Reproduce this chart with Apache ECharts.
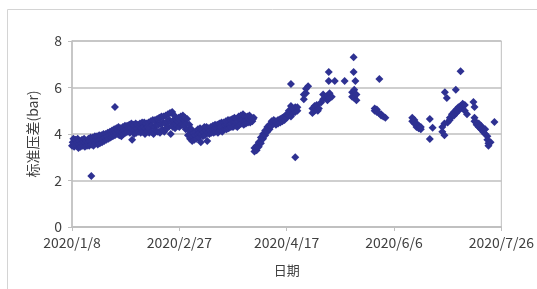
<!DOCTYPE html>
<html>
<head>
<meta charset="utf-8">
<script src="https://cdn.jsdelivr.net/npm/echarts@6/dist/echarts.min.js"></script>
<style>
html,body{margin:0;padding:0;background:#fff;}
#c{width:537px;height:289px;}
</style>
</head>
<body>
<div id="c"></div>
<script>
// Days since 2020/1/8 and the standard pressure difference (bar)
const baseDate = [2020, 0, 8];
const xTickDays = [0, 50, 100, 150, 200];
const yTicks = [0, 2, 4, 6, 8];

// Dense period (Jan 8 – Apr 1): low / mid / high of the band per day
const denseDays = [0,1,2,3,4,5,6,7,8,9,10,11,12,13,14,15,16,17,18,19,20,21,22,23,24,25,26,27,28,29,30,31,32,33,34,35,36,37,38,39,40,41,42,43,44,45,46,47,48,49,50,51,52,53,54,55,56,57,58,59,60,61,62,63,64,65,66,67,68,69,70,71,72,73,74,75,76,77,78,79,80,81,82,83,84];
const denseLow  = [3.5,3.45,3.5,3.4,3.45,3.5,3.45,3.5,3.5,3.55,3.5,3.6,3.55,3.6,3.65,3.7,3.75,3.8,3.85,3.9,3.95,4.0,3.95,3.9,4.0,4.05,4.1,4.05,3.75,4.0,4.05,4.1,4.05,4.1,4.0,4.1,4.05,4.1,4.0,4.15,4.1,4.05,4.2,4.1,4.25,4.3,4.0,4.3,4.25,4.35,4.3,4.4,4.35,4.2,3.95,3.8,3.7,3.75,3.8,3.85,3.65,3.9,3.95,3.7,4.0,4.05,4.05,4.1,4.05,4.15,4.1,4.2,4.2,4.25,4.3,4.3,4.35,4.3,4.4,4.45,4.4,4.45,4.5,4.5,4.55];
const denseMid  = [3.65,3.6,3.65,3.55,3.6,3.65,3.6,3.65,3.7,3.7,3.7,3.75,3.75,3.8,3.8,3.85,3.9,3.95,4.0,4.05,4.1,4.15,4.1,4.05,4.15,4.2,4.25,4.25,4.2,4.2,4.25,4.3,4.25,4.3,4.25,4.3,4.3,4.35,4.3,4.4,4.4,4.45,4.5,4.45,4.55,4.6,4.5,4.6,4.45,4.55,4.6,4.65,4.6,4.45,4.2,4.0,3.9,3.95,4.0,4.05,4.0,4.1,4.15,4.05,4.15,4.2,4.2,4.25,4.3,4.3,4.3,4.35,4.4,4.4,4.45,4.5,4.5,4.55,4.6,4.6,4.55,4.6,4.65,4.6,4.65];
const denseHigh = [3.8,3.75,3.8,3.7,3.75,3.8,3.7,3.8,3.85,3.85,3.9,3.9,3.95,3.95,4.0,4.0,4.05,4.1,4.15,4.2,4.25,4.3,4.25,4.3,4.35,4.35,4.4,4.45,4.4,4.45,4.4,4.45,4.5,4.5,4.45,4.5,4.55,4.6,4.6,4.65,4.7,4.75,4.75,4.8,4.85,4.9,4.95,4.8,4.6,4.7,4.75,4.8,4.7,4.65,4.4,4.2,4.05,4.1,4.2,4.25,4.2,4.3,4.3,4.25,4.3,4.35,4.4,4.4,4.45,4.5,4.5,4.55,4.6,4.6,4.65,4.7,4.65,4.75,4.8,4.85,4.75,4.75,4.8,4.7,4.7];

// Remaining, sparser readings (Apr – Jul) plus outliers
const otherDays = [
  9, 20,
  85,85,86,86,87,87,88,88,89,89,90,90,91,91,92,92,93,93,94,94,95,95,96,96,97,97,98,98,99,99,100,100,101,101,
  102,102,102,103,103,104,104,104,105,105,
  108,108,109,109,110,112,112,113,113,114,114,114.5,115,116,117,117,118,119,119,120,120,121,
  119.6,119.6,122.4,127,
  130.5,130.5,131.2,131.2,131.5,131.5,132,132.5,132.5,
  143.2,141,141,142,142,143,144,144,145,146,
  158.5,158.5,159.5,159.5,160.5,160.5,161.5,161.5,162.5,162.5,
  166.7,166.7,168,
  172.5,172.5,173.5,173.5,
  173.7,174.6,178.8,181,
  175,176,176,177,177,178,178,179,179,180,180,181,181,182,182,183,183,184,
  187,187.5,
  187.5,187.5,188.5,188.5,189.5,189.5,190.5,190.5,191.5,191.5,192.5,192.5,193.5,193.5,194,194,195,
  196.8
];
const otherValues = [
  2.19, 5.16,
  3.25,3.4,3.3,3.5,3.45,3.65,3.6,3.85,3.8,4.0,3.95,4.15,4.1,4.3,4.2,4.4,4.35,4.55,4.45,4.6,4.4,4.55,4.45,4.6,4.5,4.65,4.55,4.7,4.6,4.75,4.7,4.85,4.8,5.0,
  4.75,5.2,6.15,4.9,5.1,3.0,4.95,5.15,5.0,5.15,
  5.5,5.7,5.75,5.95,6.05,4.9,5.1,5.0,5.2,5.05,5.25,5.0,5.1,5.35,5.5,5.7,5.6,5.45,5.65,5.55,5.75,5.6,
  6.67,6.28,6.28,6.28,
  5.8,5.6,7.3,6.67,5.55,5.9,6.28,5.45,5.7,
  6.37,5.1,5.0,5.05,4.95,4.9,4.85,4.8,4.75,4.7,
  4.7,4.55,4.45,4.6,4.3,4.45,4.25,4.35,4.2,4.3,
  4.64,3.78,4.27,
  4.1,4.3,3.95,4.45,
  5.8,5.55,5.9,6.7,
  4.5,4.6,4.7,4.75,4.85,4.8,4.95,4.9,5.05,5.0,5.15,5.1,5.2,5.2,5.3,5.25,5.0,4.85,
  5.38,5.16,
  4.7,4.55,4.4,4.5,4.45,4.3,4.35,4.2,4.25,4.1,4.0,4.2,3.9,3.75,3.6,3.5,3.65,
  4.52
];

const points = [];
denseDays.forEach((d, i) => {
  points.push([d, denseLow[i]]);
  points.push([d + 0.33, denseMid[i]]);
  points.push([d + 0.66, denseHigh[i]]);
});
otherDays.forEach((d, i) => points.push([d, otherValues[i]]));

function dayLabel(v) {
  const dt = new Date(baseDate[0], baseDate[1], baseDate[2] + Math.round(v));
  return dt.getFullYear() + '/' + (dt.getMonth() + 1) + '/' + dt.getDate();
}

const font = '"Noto Sans CJK SC", "Noto Sans", sans-serif';
const chart = echarts.init(document.getElementById('c'));
chart.setOption({
  animation: false,
  backgroundColor: '#ffffff',
  graphic: [{
    type: 'rect', left: 7, top: 9, z: -10,
    shape: { width: 540, height: 290 },
    style: { fill: '#ffffff', stroke: '#d4d4d4', lineWidth: 1 }
  }],
  grid: { left: 72, right: 32, top: 41, bottom: 62, show: true, borderColor: '#bfbfbf', borderWidth: 1, backgroundColor: 'transparent' },
  xAxis: {
    type: 'value', min: xTickDays[0], max: xTickDays[xTickDays.length - 1], interval: 50,
    name: '日期', nameLocation: 'middle', nameGap: 37,
    nameTextStyle: { fontFamily: font, fontSize: 13, color: '#404040' },
    axisLine: { show: true, lineStyle: { color: '#bfbfbf', width: 1.5 } },
    axisTick: { show: true, inside: false, length: 4, lineStyle: { color: '#bfbfbf' } },
    splitLine: { show: false },
    axisLabel: { formatter: dayLabel, fontFamily: font, fontSize: 14, color: '#404040', margin: 9 }
  },
  yAxis: {
    type: 'value', min: yTicks[0], max: yTicks[yTicks.length - 1], interval: 2,
    name: '标准压差(bar)', nameLocation: 'middle', nameGap: 32, nameRotate: 90,
    nameTextStyle: { fontFamily: font, fontSize: 14, color: '#404040' },
    axisLine: { show: true, lineStyle: { color: '#bfbfbf', width: 1.5 } },
    axisTick: { show: true, length: 4, lineStyle: { color: '#bfbfbf' } },
    splitLine: { show: true, lineStyle: { color: '#bfbfbf', width: 1.5 } },
    axisLabel: { fontFamily: font, fontSize: 14, color: '#404040', margin: 10 }
  },
  series: [{
    type: 'scatter',
    symbol: 'diamond',
    symbolSize: 8,
    itemStyle: { color: '#2e3192', opacity: 1 },
    data: points
  }]
});
</script>
</body>
</html>
